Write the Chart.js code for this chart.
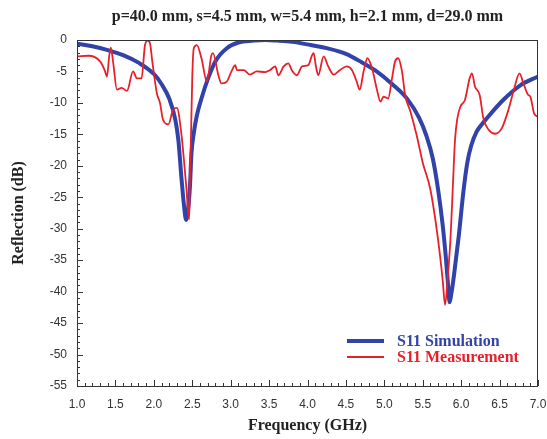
<!DOCTYPE html>
<html lang="en">
<head>
<meta charset="utf-8">
<title>Reflection</title>
<script src="https://cdn.jsdelivr.net/npm/chart.js@4.4.1/dist/chart.umd.min.js"></script>
<style>
  html, body { margin: 0; padding: 0; background: #fff; }
</style>
</head>
<body>
<canvas id="reflection" width="547" height="439"></canvas>
<script>
"use strict";

// Data: frequency (GHz) and reflection (dB)
const chartTitle = "p=40.0 mm, s=4.5 mm, w=5.4 mm, h=2.1 mm, d=29.0 mm";
const seriesLabels = ["S11 Simulation", "S11 Measurement"];

const simFreq = [1.0, 1.2, 1.4, 1.6, 1.8, 2.0, 2.1, 2.2, 2.28, 2.32, 2.36, 2.39, 2.42, 2.45, 2.47,
  2.49, 2.52, 2.56, 2.62, 2.7, 2.8, 2.95, 3.1, 3.3, 3.45, 3.6, 3.8, 4.0, 4.25, 4.5, 4.7, 4.9,
  5.1, 5.3, 5.45, 5.55, 5.63, 5.7, 5.76, 5.8, 5.83, 5.85, 5.87, 5.9, 5.94, 5.97, 6.03, 6.08, 6.13,
  6.2, 6.27, 6.33, 6.55, 6.77, 7.0];
const simDb = [-0.6, -1.0, -1.6, -2.4, -3.6, -5.4, -7.0, -9.3, -12.7, -16.0, -22.0, -26.0, -28.6,
  -26.5, -23.3, -18.0, -14.8, -12.0, -9.3, -6.3, -3.4, -1.3, -0.4, -0.1, 0.0, -0.1, -0.3, -0.7,
  -1.3, -2.2, -3.5, -5.0, -7.0, -9.4, -12.3, -15.3, -18.8, -23.8, -29.5, -34.5, -39.0, -41.7,
  -40.5, -38.0, -34.0, -31.0, -24.0, -19.5, -16.8, -14.6, -13.4, -12.5, -9.5, -7.2, -5.8];

const measFreq = [1.0, 1.15, 1.3, 1.36, 1.39, 1.42, 1.44, 1.47, 1.52, 1.58, 1.65, 1.73, 1.78, 1.84,
  1.885, 1.92, 1.95, 1.98, 2.04, 2.08, 2.12, 2.19, 2.25, 2.3, 2.36, 2.42, 2.46, 2.47, 2.48, 2.5,
  2.52, 2.56, 2.62, 2.69, 2.75, 2.77, 2.84, 2.88, 2.95, 3.01, 3.06, 3.08, 3.17, 3.25, 3.34, 3.45,
  3.51, 3.58, 3.62, 3.69, 3.75, 3.8, 3.86, 3.93, 4.01, 4.06, 4.08, 4.11, 4.14, 4.21, 4.27, 4.34,
  4.42, 4.51, 4.58, 4.64, 4.68, 4.73, 4.78, 4.84, 4.9, 4.95, 4.99, 5.05, 5.1, 5.14, 5.18, 5.23,
  5.27, 5.34, 5.42, 5.5, 5.6, 5.7, 5.76, 5.79, 5.83, 5.86, 5.89, 5.92, 5.95, 5.99, 6.05, 6.11,
  6.14, 6.18, 6.24, 6.29, 6.36, 6.44, 6.53, 6.62, 6.68, 6.76, 6.81, 6.87, 6.9, 6.95, 7.0];
const measDb = [-2.6, -2.5, -3.4, -4.8, -5.8, -2.5, -1.2, -3.5, -7.9, -7.6, -8.1, -5.0, -6.1, -6.1,
  -0.8, -0.1, -0.5, -3.4, -8.5, -10.0, -12.7, -13.4, -11.1, -10.8, -15.1, -23.0, -28.5, -22.0,
  -17.5, -6.0, -1.3, -0.8, -2.9, -6.6, -2.4, -2.1, -5.6, -6.9, -6.6, -5.0, -4.0, -4.8, -4.8,
  -5.5, -5.0, -5.1, -4.8, -4.2, -5.6, -4.2, -3.7, -4.9, -5.6, -4.2, -4.0, -2.4, -2.1, -4.2,
  -5.6, -2.6, -4.2, -5.5, -4.8, -4.2, -4.8, -6.6, -7.9, -5.0, -2.9, -4.5, -7.7, -9.8, -9.0,
  -9.3, -6.1, -3.4, -2.9, -5.0, -8.7, -11.4, -15.1, -19.5, -23.8, -31.8, -38.2, -42.1, -37.0,
  -31.8, -23.8, -15.9, -12.5, -10.6, -9.5, -6.1, -5.3, -7.4, -8.7, -12.5, -14.3, -14.9, -14.0,
  -10.9, -8.2, -5.3, -6.9, -8.7, -9.0, -11.7, -12.2];

const xTickValues = [1.0, 1.5, 2.0, 2.5, 3.0, 3.5, 4.0, 4.5, 5.0, 5.5, 6.0, 6.5, 7.0];
const yTickValues = [0, -5, -10, -15, -20, -25, -30, -35, -40, -45, -50, -55];

const serif = "'Liberation Serif', 'Times New Roman', serif";
const sans = "'Liberation Sans', Arial, sans-serif";
const blue = "#3142a8";
const red = "#e8202a";

/**
 * Pairs a frequency array with its dB array as {x, y} points.
 *
 * @param {number[]} freq
 * @param {number[]} db
 * @returns {{x: number, y: number}[]}
 */
function toPoints(freq, db) {
  return freq.map((f, i) => ({ x: f, y: db[i] }));
}

// Plot title centred over the plot area, frame, inward ticks and inside legend
const decorations = {
  id: "decorations",
  afterDatasetsDraw(chart) {
    const { ctx, chartArea, scales } = chart;
    ctx.save();
    ctx.strokeStyle = "#333";
    ctx.lineWidth = 1;
    ctx.beginPath();
    for (let i = 0; i <= 60; i++) {
      const px = Math.round(scales.x.getPixelForValue(1 + i / 10)) + 0.5;
      const len = i % 5 === 0 ? 6 : 3;
      ctx.moveTo(px, chartArea.bottom);
      ctx.lineTo(px, chartArea.bottom - len);
    }
    for (let i = 0; i <= 55; i++) {
      const py = Math.round(scales.y.getPixelForValue(-i)) + 0.5;
      const len = i % 5 === 0 ? 6 : 3;
      ctx.moveTo(chartArea.left, py);
      ctx.lineTo(chartArea.left + len, py);
    }
    ctx.stroke();
    ctx.strokeRect(chartArea.left + 0.5, chartArea.top + 0.5,
      chartArea.right - chartArea.left - 1, chartArea.bottom - chartArea.top);

    ctx.fillStyle = "#222";
    ctx.font = "bold 16px " + serif;
    ctx.textAlign = "center";
    ctx.textBaseline = "middle";
    ctx.fillText(chartTitle, (chartArea.left + chartArea.right) / 2, 17);

    ctx.font = "bold 16px " + serif;
    ctx.textAlign = "left";
    chart.data.datasets.forEach((ds, i) => {
      const y = chartArea.bottom - 45 + i * 16;
      const x0 = chartArea.right - 191;
      ctx.strokeStyle = ds.borderColor;
      ctx.lineWidth = ds.borderWidth;
      ctx.beginPath();
      ctx.moveTo(x0, y);
      ctx.lineTo(x0 + 37, y);
      ctx.stroke();
      ctx.fillStyle = ds.borderColor;
      ctx.fillText(ds.label, x0 + 50, y + 1);
    });
    ctx.restore();
  },
};

new Chart(document.querySelector("#reflection"), {
  type: "line",
  data: {
    datasets: [
      {
        label: seriesLabels[0],
        data: toPoints(simFreq, simDb),
        borderColor: blue,
        borderWidth: 4,
        pointRadius: 0,
        cubicInterpolationMode: "monotone",
        order: 2,
      },
      {
        label: seriesLabels[1],
        data: toPoints(measFreq, measDb),
        borderColor: red,
        borderWidth: 1.8,
        pointRadius: 0,
        cubicInterpolationMode: "monotone",
        order: 1,
      },
    ],
  },
  options: {
    responsive: false,
    animation: false,
    layout: { padding: { top: 40, right: 9, left: 0, bottom: 0 } },
    plugins: {
      legend: { display: false },
      title: { display: false },
      tooltip: { enabled: false },
    },
    scales: {
      x: {
        type: "linear",
        min: 1,
        max: 7,
        afterBuildTicks: (scale) => {
          scale.ticks = xTickValues.map((v) => ({ value: v }));
        },
        afterFit: (scale) => {
          scale.height = 53;
          scale.paddingLeft = 0;
          scale.paddingRight = 0;
        },
        grid: { display: false, drawTicks: false },
        border: { display: false },
        ticks: {
          padding: 11,
          color: "#333",
          font: { family: sans, size: 12 },
          maxRotation: 0,
          callback: (v) => Number(v).toFixed(1),
        },
        title: {
          display: true,
          text: "Frequency (GHz)",
          color: "#222",
          font: { family: serif, size: 16, weight: "bold" },
          padding: { top: 4, bottom: 4 },
        },
      },
      y: {
        type: "linear",
        min: -55,
        max: 0,
        afterBuildTicks: (scale) => {
          scale.ticks = yTickValues.map((v) => ({ value: v }));
        },
        afterFit: (scale) => {
          scale.width = 77;
          scale.paddingTop = 0;
          scale.paddingBottom = 0;
        },
        grid: { display: false, drawTicks: false },
        border: { display: false },
        ticks: {
          padding: 10,
          color: "#333",
          font: { family: sans, size: 12 },
        },
        title: {
          display: true,
          text: "Reflection (dB)",
          color: "#222",
          font: { family: serif, size: 16, weight: "bold" },
          padding: { top: 9, bottom: 9 },
        },
      },
    },
  },
  plugins: [decorations],
});
</script>
</body>
</html>
